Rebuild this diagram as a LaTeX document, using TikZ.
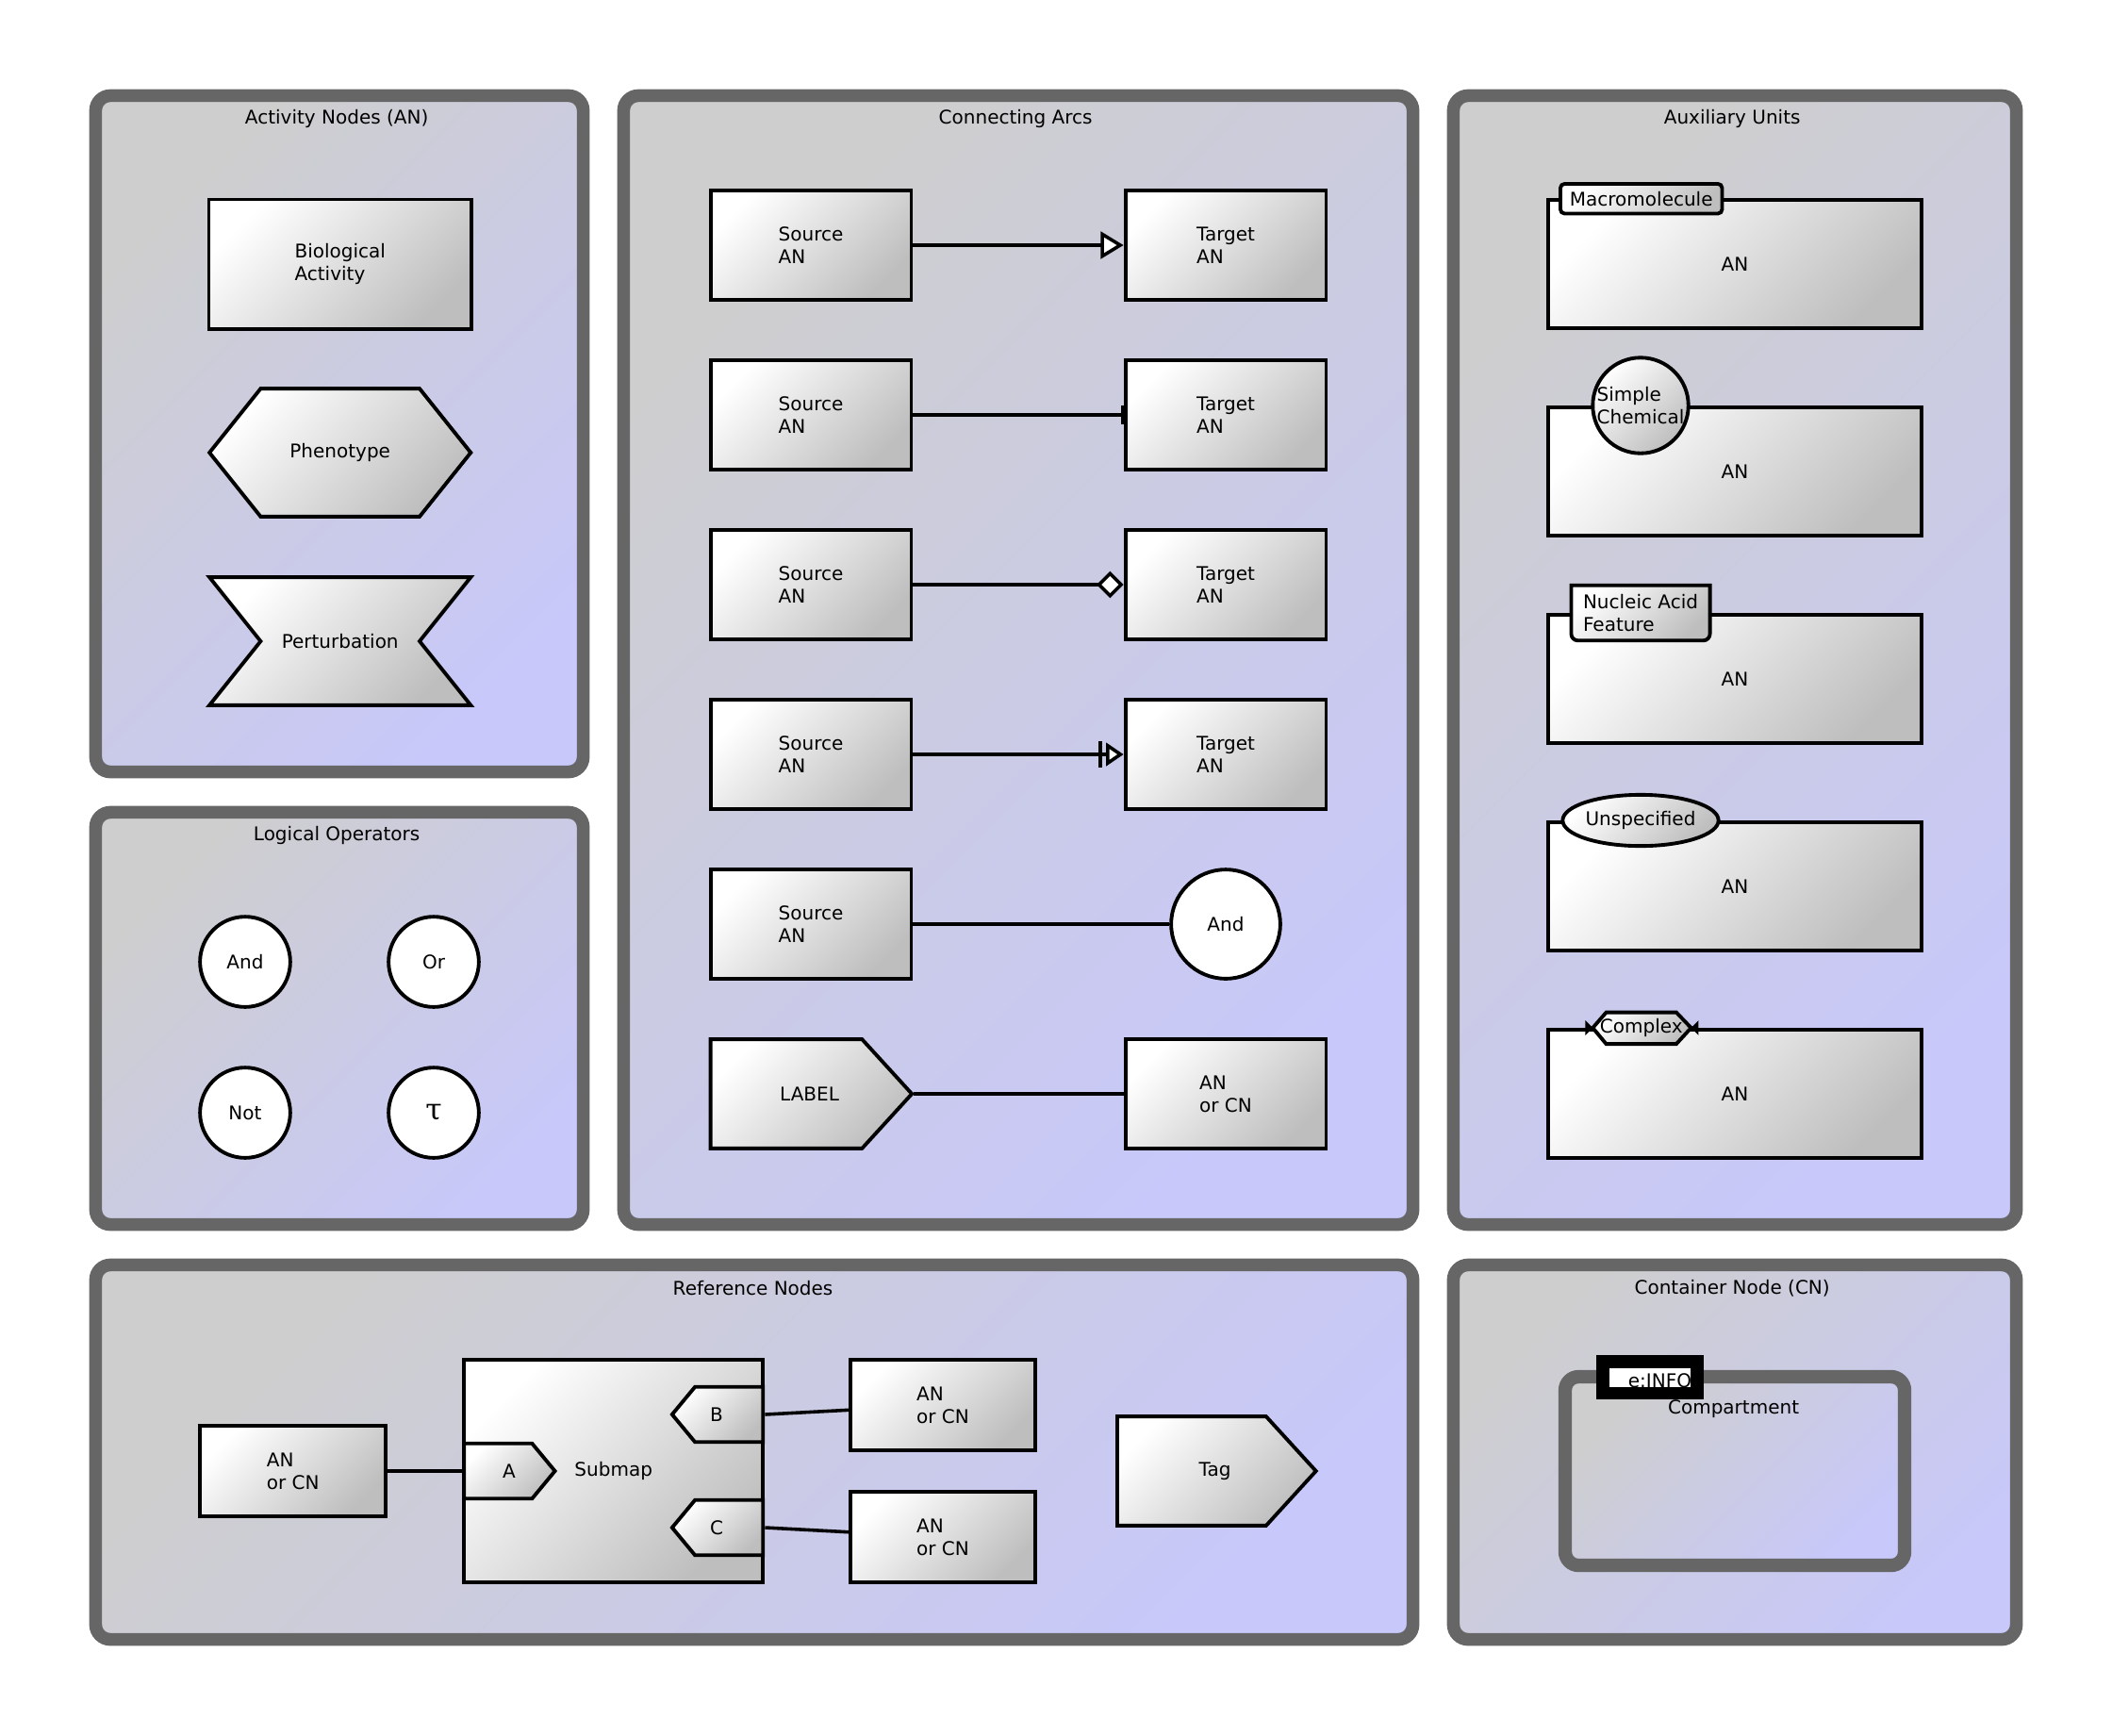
\documentclass[tikz,border=0pt]{standalone}
\usepackage{fontspec}
\setmainfont{DejaVu Sans}
\newfontfamily\taufont{DejaVu Serif}
\usetikzlibrary{arrows.meta,shapes.geometric}
\definecolor{panelA}{RGB}{206,206,206}
\definecolor{panelB}{RGB}{200,200,250}
\definecolor{panelborder}{RGB}{102,102,102}
\definecolor{nodeB}{RGB}{190,190,190}
\newcommand\dfont{\fontsize{14}{17}\selectfont}
\begin{document}
\begin{tikzpicture}[x=1pt,y=-1pt, font=\dfont,
  panel/.style={draw=panelborder, line width=9.5pt, rounded corners=11pt, left color=panelA, right color=panelB, shading angle=45},
  gshade/.style={left color=white, right color=nodeB, shading angle=45},
  anbox/.style={draw=black, line width=2.7pt, gshade, rectangle, inner sep=0pt},
  shapeline/.style={draw=black, line width=2.7pt, line join=miter, gshade},
  opcircle/.style={draw=black, line width=2.7pt, fill=white, circle, inner sep=0pt, minimum size=67pt},
  arcline/.style={draw=black, line width=2.5pt},
  ttl/.style={inner sep=0pt},
  txt/.style={align=left, inner sep=0pt},
]
\useasboundingbox (0,0) rectangle (1568,1288);

% ---------- panels ----------
\path[panel] (71,71) rectangle (433,573);
\path[panel] (71,603) rectangle (433,909);
\path[panel] (463,71) rectangle (1049,909);
\path[panel] (1079,71) rectangle (1497,909);
\path[panel] (71,939) rectangle (1049,1217);
\path[panel] (1079,939) rectangle (1497,1217);

\node[ttl] (ttlA) at (250,88) {Activity Nodes (AN)};
\node[ttl] (ttlL) at (250,620) {Logical Operators};
\node[ttl] (ttlC) at (754,88) {Connecting Arcs};
\node[ttl] (ttlU) at (1286,88) {Auxiliary Units};
\node[ttl] (ttlR) at (559,956) {Reference Nodes};
\node[ttl] (ttlN) at (1286,956) {Container Node (CN)};

% ---------- activity nodes ----------
\node[anbox, minimum width=195pt, minimum height=96pt, align=left] (bio) at (252.5,196) {Biological\\Activity};
\path[shapeline] (155.5,336) -- (193.5,288.5) -- (311.5,288.5) -- (349.5,336) -- (311.5,383.5) -- (193.5,383.5) -- cycle;
\node[txt] (pheno) at (252.5,336) {Phenotype};
\path[shapeline] (155.5,428.5) -- (349.5,428.5) -- (311.5,476) -- (349.5,523.5) -- (155.5,523.5) -- (193.5,476) -- cycle;
\node[txt] (pert) at (252.5,476) {Perturbation};

% ---------- logical operators ----------
\node[opcircle] (opand) at (182,714) {And};
\node[opcircle] (opor) at (322,714) {Or};
\node[opcircle] (opnot) at (182,826) {Not};
\node[opcircle, font=\taufont\fontsize{22}{22}\selectfont] (optau) at (322,826) {τ};

% ---------- connecting arcs ----------
\foreach \i/\y in {1/182,2/308,3/434,4/560,5/686}{
  \node[anbox, minimum width=149pt, minimum height=81pt, align=left] (s\i) at (602,\y) {Source\\AN};
}
\foreach \i/\y in {1/182,2/308,3/434,4/560}{
  \node[anbox, minimum width=149pt, minimum height=81pt, align=left] (t\i) at (910,\y) {Target\\AN};
}
\node[opcircle, minimum size=81pt] (arcand) at (910,686) {And};
\path[shapeline] (527.5,771.5) -- (640,771.5) -- (677,812) -- (640,852.5) -- (527.5,852.5) -- cycle;
\node[txt] (lbl) at (601,812) {LABEL};
\coordinate (lbltip) at (678,812);
\node[anbox, minimum width=149pt, minimum height=81pt, align=left] (ancn) at (910,812) {AN\\or CN};

\draw[arcline, -{Triangle[length=17pt,width=20pt,fill=white,line join=miter]}] (s1) -- (t1);
\draw[arcline, -{Bar[width=14pt,line width=2pt]}] (s2) -- (t2);
\draw[arcline, -{Diamond[length=20pt,width=20pt,fill=white]}] (s3) -- (t3);
\draw[arcline, -{Bar[width=19pt,sep=3pt]Triangle[length=13pt,width=17pt,fill=white]}] (s4) -- (t4);
\draw[arcline] (s5) -- (arcand);
\draw[arcline] (lbltip) -- (ancn);

% ---------- auxiliary units ----------
\foreach \i/\y in {1/196,2/350,3/504,4/658,5/812}{
  \node[anbox, minimum width=277pt, minimum height=95pt] (au\i) at (1288,\y) {AN};
}
\node[draw=black, line width=2.7pt, gshade, rounded corners=3pt, minimum width=120pt, minimum height=22pt, inner sep=0pt] (macro) at (1218.5,147.5) {Macromolecule};
\node[draw=black, line width=2.7pt, gshade, circle, minimum size=71pt, inner sep=0pt, align=left] (simple) at (1218,301) {Simple\\Chemical};
\path[shapeline] (1166.5,455) -- (1166.5,434.5) -- (1269.5,434.5) -- (1269.5,455) [rounded corners=5pt] -- (1269.5,475.5) -- (1166.5,475.5) -- cycle;
\node[txt] (naf) at (1218,455) {Nucleic Acid\\Feature};
\node[draw=black, line width=2.7pt, gshade, ellipse, minimum width=107pt, minimum height=38pt, inner sep=0pt] (unsp) at (1218,609) {Unspecified};
\path[shapeline] (1182.5,763) -- (1192.5,751.5) -- (1244.5,751.5) -- (1255.5,763) -- (1244.5,775) -- (1192.5,775) -- cycle;
\fill[black] (1182.5,763) -- (1177,757.5) -- (1177,768.5) -- cycle;
\fill[black] (1255.5,763) -- (1261,757.5) -- (1261,768.5) -- cycle;
\node[txt] (cplx) at (1218.5,763) {Complex};

% ---------- reference nodes ----------
\node[anbox, minimum width=138pt, minimum height=67pt, align=left] (ref1) at (217.5,1092) {AN\\or CN};
\node[anbox, minimum width=222pt, minimum height=165pt] (submap) at (455.5,1092) {Submap};
\path[shapeline] (344.5,1071.5) -- (395,1071.5) -- (412,1092) -- (395,1112.5) -- (344.5,1112.5) -- cycle;
\node[txt] (tagA) at (378,1092) {A};
\coordinate (tagAin) at (343,1092);
\path[shapeline] (566.5,1029.5) -- (516,1029.5) -- (499,1050) -- (516,1070.5) -- (566.5,1070.5) -- cycle;
\node[txt] (tagB) at (532,1050) {B};
\coordinate (tagBout) at (568,1050);
\path[shapeline] (566.5,1113.5) -- (516,1113.5) -- (499,1134) -- (516,1154.5) -- (566.5,1154.5) -- cycle;
\node[txt] (tagC) at (532,1134) {C};
\coordinate (tagCout) at (568,1134);
\node[anbox, minimum width=137pt, minimum height=67pt, align=left] (ref2) at (700,1043) {AN\\or CN};
\node[anbox, minimum width=137pt, minimum height=67pt, align=left] (ref3) at (700,1141) {AN\\or CN};
\path[shapeline] (829.5,1051.5) -- (940,1051.5) -- (977,1092) -- (940,1132.5) -- (829.5,1132.5) -- cycle;
\node[txt] (tagT) at (902,1092) {Tag};

\draw[arcline] (ref1) -- (tagAin);
\draw[arcline] (tagBout) -- (ref2);
\draw[arcline] (tagCout) -- (ref3);

% ---------- container node ----------
\node[draw=panelborder, line width=10pt, rounded corners=10pt, left color=panelA, right color=panelB, shading angle=45, minimum width=252pt, minimum height=140pt, inner sep=0pt] (comp) at (1288,1092) {};
\node[txt] (comptxt) at (1287,1046) {Compartment};
\fill[black] (1185,1006) rectangle (1265,1039);
\fill[white] (1195,1015.5) rectangle (1255,1029.5);
\begin{scope}
  \clip (1195,1015.5) rectangle (1255,1029.5);
  \node[inner sep=0pt, anchor=base east] (info) at (1256,1030) {e:INFO};
\end{scope}
\end{tikzpicture}
\end{document}
